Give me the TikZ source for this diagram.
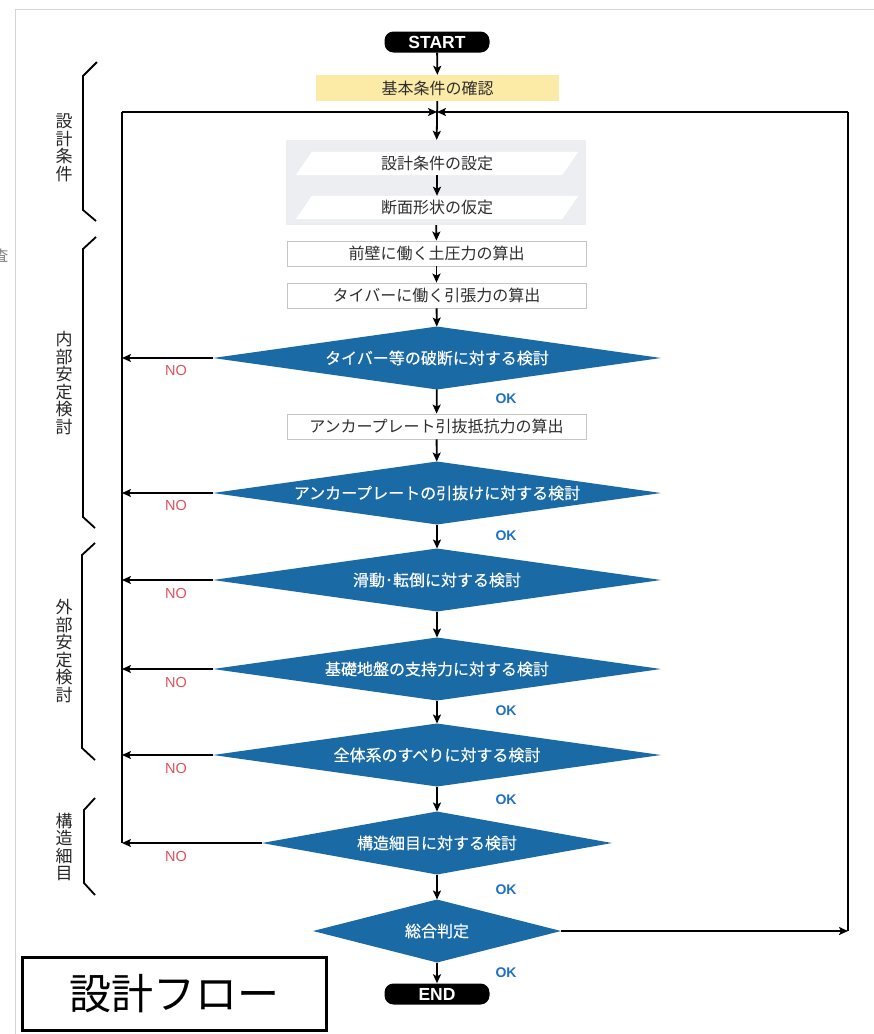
\documentclass[tikz,border=0pt]{standalone}
\usepackage{fontspec}
\newfontfamily\jp{Noto Sans CJK JP}
\newfontfamily\jpb[FakeBold=0.4]{Noto Sans CJK JP}
\newfontfamily\lat{Liberation Sans}
\usetikzlibrary{shapes.geometric,arrows.meta,calc,backgrounds}
\definecolor{dblue}{HTML}{1A6AA6}
\definecolor{nored}{HTML}{E0505A}
\definecolor{okblue}{HTML}{2070C0}
\definecolor{yelbox}{HTML}{FCEBA6}
\definecolor{panelgray}{HTML}{EDEEF2}
\definecolor{boxline}{HTML}{C5C5C5}
\definecolor{txt}{HTML}{2E2E2E}
\definecolor{frame}{HTML}{D4D4D4}
\begin{document}
\begin{tikzpicture}[x=1pt,y=-1pt,
  line/.style={line width=1.8pt, draw=black},
  arr/.style={line, -{Stealth[length=9pt,width=8pt,inset=2pt]}},
  pill/.style={rectangle, rounded corners=9pt, fill=black, text=white, minimum width=105pt, minimum height=21pt, inner sep=0pt, font=\lat\bfseries\fontsize{17.5}{17.5}\selectfont},
  calcbox/.style={rectangle, draw=boxline, line width=0.8pt, fill=white, text=txt, minimum width=299pt, minimum height=25pt, inner sep=0pt, font=\jp\fontsize{16}{18}\selectfont},
  ptext/.style={rectangle, minimum width=266pt, minimum height=23pt, inner sep=0pt, text=txt, font=\jp\fontsize{16}{18}\selectfont},
  dia/.style={diamond, aspect=7, inner sep=0pt, outer sep=0pt, fill=dblue, text=white, font=\jpb\fontsize{16}{18}\selectfont, minimum width=448pt, minimum height=63pt},
  nolab/.style={text=nored, font=\lat\fontsize{14.5}{14.5}\selectfont},
  oklab/.style={text=okblue, font=\lat\bfseries\fontsize{14}{14}\selectfont},
  side/.style={align=center, text=black!85, font=\jp\fontsize{17}{17.5}\selectfont, inner sep=0pt},
  brace/.style={line width=1.8pt, draw=black}
]
\useasboundingbox (0,0) rectangle (874,1034);
% page frame
\draw[frame, line width=1pt] (15,1034) -- (15,9) -- (874,9);
\node[text=gray, font=\jp\fontsize{15}{15}\selectfont] (sa) at (1,256) {査};

% nodes
\node[pill] (start) at (437,42) {START};
\node[rectangle, fill=yelbox, minimum width=243pt, minimum height=26pt, inner sep=0pt, text=txt, font=\jp\fontsize{16}{18}\selectfont] (yel) at (437.5,88) {基本条件の確認};
\node[ptext] (p1) at (437,163.5) {設計条件の設定};
\node[ptext] (p2) at (437,207.5) {断面形状の仮定};
\begin{scope}[on background layer]
  \node[rectangle, fill=panelgray, minimum width=300pt, minimum height=85pt, inner sep=0pt] (panel) at (436,182.5) {};
  \fill[white] ($(p1.south west)+(-8,0)$) -- ($(p1.north west)+(8,0)$) -- ($(p1.north east)+(8,0)$) -- ($(p1.south east)+(-8,0)$) -- cycle;
  \fill[white] ($(p2.south west)+(-8,0)$) -- ($(p2.north west)+(8,0)$) -- ($(p2.north east)+(8,0)$) -- ($(p2.south east)+(-8,0)$) -- cycle;
\end{scope}
\node[calcbox] (b1) at (436.5,253.5) {前壁に働く土圧力の算出};
\node[calcbox] (b2) at (436.5,295.5) {タイバーに働く引張力の算出};
\node[dia] (d1) at (437,358) {タイバー等の破断に対する検討};
\node[calcbox] (b3) at (436.5,426.5) {アンカープレート引抜抵抗力の算出};
\node[dia] (d2) at (437,493) {アンカープレートの引抜けに対する検討};
\node[dia] (d3) at (437,580) {滑動･転倒に対する検討};
\node[dia] (d4) at (437,669) {基礎地盤の支持力に対する検討};
\node[dia] (d5) at (437,755) {全体系のすべりに対する検討};
\node[dia, minimum width=350pt] (d6) at (437,843) {構造細目に対する検討};
\node[dia, minimum width=248pt, aspect=4] (d7) at (437,931) {総合判定};
\node[pill] (end) at (437,994) {END};

% loop frame
\coordinate (jn) at (437,112);
\coordinate (lt) at (122,112);
\coordinate (lb) at (122,843);
\coordinate (rt) at (848,112);
\coordinate (rb) at (848,931);
\draw[line] (lb) -- (lt);
\draw[arr] (lt) -- (jn);
\draw[line] (rb) -- (rt);
\draw[arr] (rt) -- (jn);

% main flow
\draw[arr] (start) -- (yel);
\draw[arr] (yel) -- (panel);
\draw[arr] (p1) -- (p2);
\draw[arr] (panel) -- (b1);
\draw[arr] (b1) -- (b2);
\draw[arr] (b2) -- (d1);
\draw[arr] (d1) -- (b3);
\draw[arr] (b3) -- (d2);
\draw[arr] (d2) -- (d3);
\draw[arr] (d3) -- (d4);
\draw[arr] (d4) -- (d5);
\draw[arr] (d5) -- (d6);
\draw[arr] (d6) -- (d7);
\draw[arr] (d7) -- (end);
\draw[arr] (d7.east) -- (rb);

% NO branches
\draw[arr] (d1.west) -- (d1.west -| lt);
\draw[arr] (d2.west) -- (d2.west -| lt);
\draw[arr] (d3.west) -- (d3.west -| lt);
\draw[arr] (d4.west) -- (d4.west -| lt);
\draw[arr] (d5.west) -- (d5.west -| lt);
\draw[arr] (d6.west) -- (lb);

% labels
\node[nolab] (n1) at (176,371) {NO};
\node[nolab] (n2) at (176,506) {NO};
\node[nolab] (n3) at (176,593) {NO};
\node[nolab] (n4) at (176,682) {NO};
\node[nolab] (n5) at (176,768) {NO};
\node[nolab] (n6) at (176,856) {NO};
\node[oklab] (o1) at (506,399) {OK};
\node[oklab] (o2) at (506,536) {OK};
\node[oklab] (o4) at (506,711) {OK};
\node[oklab] (o5) at (506,800) {OK};
\node[oklab] (o6) at (506,890) {OK};
\node[oklab] (o7) at (506,973) {OK};

% side braces and labels
\draw[brace] (97,62) -- (83,76) -- (83,210) -- (96,221);
\draw[brace] (96,237) -- (83,249) -- (83,517) -- (95,528);
\draw[brace] (95,543) -- (82,555) -- (82,748) -- (95,760);
\draw[brace] (95,798) -- (84,810) -- (84,883) -- (95,895);
\node[side] (s1) at (64,148) {設\\計\\条\\件};
\node[side] (s2) at (64,383) {内\\部\\安\\定\\検\\討};
\node[side] (s3) at (64,651) {外\\部\\安\\定\\検\\討};
\node[side] (s4) at (64,847) {構\\造\\細\\目};

% title
\node[rectangle, draw=black, line width=3pt, minimum width=304pt, minimum height=73pt, inner sep=0pt, font=\jp\fontsize{42}{42}\selectfont] (title) at (174,993.5) {設計フロー};
\end{tikzpicture}
\end{document}
